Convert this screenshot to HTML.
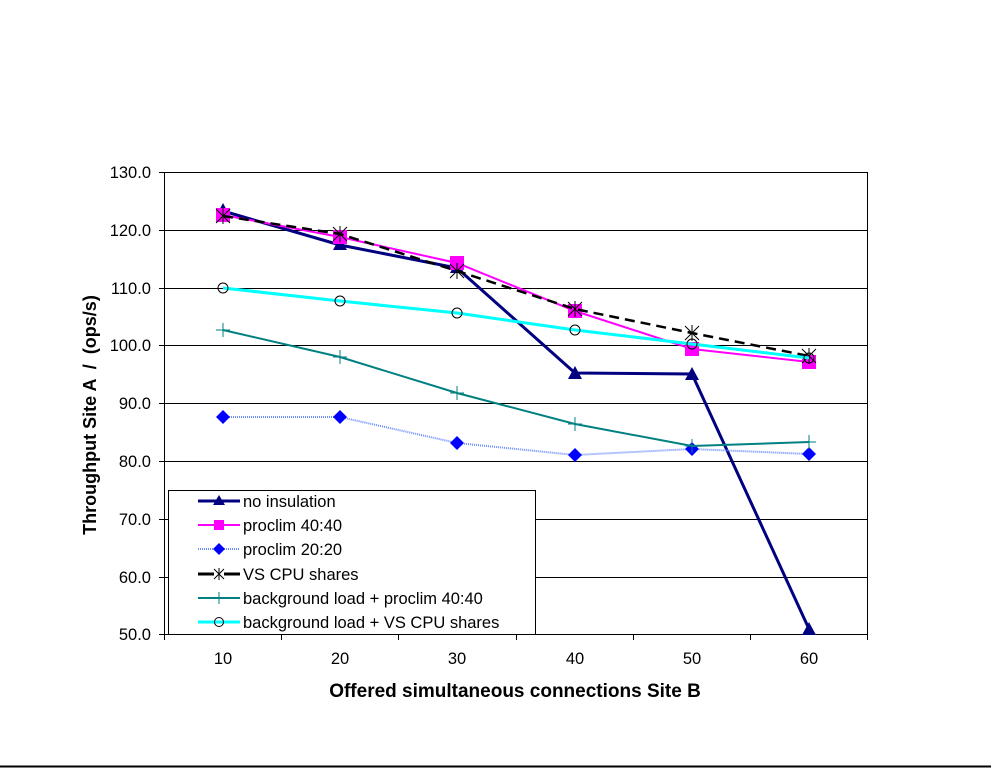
<!DOCTYPE html>
<html><head><meta charset="utf-8"><style>
html,body{margin:0;padding:0;background:#fff;}
svg{display:block;font-family:"Liberation Sans",Arial,sans-serif;}
</style></head><body>
<svg width="991" height="768" viewBox="0 0 991 768" xmlns="http://www.w3.org/2000/svg">
<rect width="991" height="768" fill="#fff"/>
<line x1="0" y1="766.5" x2="991" y2="766.5" stroke="#000" stroke-width="2"/>
<g stroke="#000" stroke-width="1">
<line x1="159" y1="172.5" x2="867" y2="172.5"/>
<line x1="159" y1="230.5" x2="867" y2="230.5"/>
<line x1="159" y1="288.5" x2="867" y2="288.5"/>
<line x1="159" y1="345.5" x2="867" y2="345.5"/>
<line x1="159" y1="403.5" x2="867" y2="403.5"/>
<line x1="159" y1="461.5" x2="867" y2="461.5"/>
<line x1="159" y1="519.5" x2="867" y2="519.5"/>
<line x1="159" y1="577.5" x2="867" y2="577.5"/>
<line x1="159" y1="634.5" x2="867" y2="634.5"/>
<line x1="164.5" y1="172" x2="164.5" y2="634"/>
<line x1="867.5" y1="172" x2="867.5" y2="634"/>
<line x1="164.5" y1="634" x2="164.5" y2="640"/>
<line x1="281.5" y1="634" x2="281.5" y2="640"/>
<line x1="398.5" y1="634" x2="398.5" y2="640"/>
<line x1="516.5" y1="634" x2="516.5" y2="640"/>
<line x1="633.5" y1="634" x2="633.5" y2="640"/>
<line x1="750.5" y1="634" x2="750.5" y2="640"/>
<line x1="867.5" y1="634" x2="867.5" y2="640"/>
</g>
<g font-size="16.5" text-anchor="end" fill="#000">
<text x="151" y="178">130.0</text>
<text x="151" y="236">120.0</text>
<text x="151" y="294">110.0</text>
<text x="151" y="351">100.0</text>
<text x="151" y="409">90.0</text>
<text x="151" y="467">80.0</text>
<text x="151" y="525">70.0</text>
<text x="151" y="583">60.0</text>
<text x="151" y="640">50.0</text>
</g>
<g font-size="16.5" text-anchor="middle">
<text x="223" y="664">10</text>
<text x="340" y="664">20</text>
<text x="457" y="664">30</text>
<text x="575" y="664">40</text>
<text x="692" y="664">50</text>
<text x="809" y="664">60</text>
</g>
<text x="515" y="697" font-size="19" font-weight="bold" text-anchor="middle">Offered simultaneous connections Site B</text>
<text transform="translate(96,415) rotate(-90)" font-size="18" font-weight="bold" text-anchor="middle" xml:space="preserve">Throughput Site A  /  (ops/s)</text>

<polyline points="223,211 340,245 457,268 575,373 692,374 809,629" fill="none" stroke="#000080" stroke-width="3"/>
<g fill="#000080">
<polygon points="223,203 216,216 230,216"/><polygon points="340,237 333,250 347,250"/><polygon points="457,260 450,273 464,273"/>
<polygon points="575,366 568,379 582,379"/><polygon points="692,367 685,380 699,380"/><polygon points="809,622 802,635 816,635"/>
</g>
<polyline points="223,215 340,237 457,263 575,311 692,349 809,362" fill="none" stroke="#ff00ff" stroke-width="2"/>
<g fill="#ff00ff">
<rect x="216" y="208" width="14" height="14"/><rect x="333" y="230" width="14" height="14"/><rect x="450" y="256" width="14" height="14"/>
<rect x="568" y="304" width="14" height="14"/><rect x="685" y="342" width="14" height="14"/><rect x="802" y="355" width="14" height="14"/>
</g>
<polyline points="223,417 340,417 457,443 575,455 692,449 809,454" fill="none" stroke="#6a8cff" stroke-width="2" stroke-dasharray="1,1"/>
<g fill="#0000ff">
<polygon points="223,410 230,417 223,424 216,417"/><polygon points="340,410 347,417 340,424 333,417"/><polygon points="457,436 464,443 457,450 450,443"/>
<polygon points="575,448 582,455 575,462 568,455"/><polygon points="692,442 699,449 692,456 685,449"/><polygon points="809,447 816,454 809,461 802,454"/>
</g>
<polyline points="223,216 340,234 457,271 575,309 692,333 809,356" fill="none" stroke="#000" stroke-width="2.5" stroke-dasharray="10,6"/>
<g stroke="#000" stroke-width="1">
<path d="M216,209l14,14M230,209l-14,14M223,208v16M340,226v16M333,227l14,14M347,227l-14,14M457,263v16M450,264l14,14M464,264l-14,14M575,301v16M568,302l14,14M582,302l-14,14M692,325v16M685,326l14,14M699,326l-14,14M809,348v16M802,349l14,14M816,349l-14,14"/>
</g>
<polyline points="223,330 340,357 457,393 575,424 692,446 809,442" fill="none" stroke="#008080" stroke-width="2"/>
<g stroke="#008080" stroke-width="1">
<path d="M223,323v14M216,330h14M340,350v14M333,357h14M457,386v14M450,393h14M575,417v14M568,424h14M692,439v14M685,446h14M809,435v14M802,442h14"/>
</g>
<polyline points="223,288 340,301 457,313 575,330 692,344 809,358" fill="none" stroke="#00ffff" stroke-width="3"/>
<g fill="none" stroke="#000" stroke-width="1">
<circle cx="223" cy="288" r="5"/><circle cx="340" cy="301" r="5"/><circle cx="457" cy="313" r="5"/>
<circle cx="575" cy="330" r="5"/><circle cx="692" cy="344" r="5"/><circle cx="809" cy="358" r="5"/>
</g>

<rect x="168.5" y="490.5" width="367" height="144" fill="#fff" stroke="#000" stroke-width="1"/>
<g font-size="16.5">
<line x1="198" y1="501" x2="240" y2="501" stroke="#000080" stroke-width="3"/>
<polygon points="219,495 213,505 225,505" fill="#000080"/>
<text x="243" y="507">no insulation</text>
<line x1="198" y1="525" x2="240" y2="525" stroke="#ff00ff" stroke-width="2"/>
<rect x="214" y="520" width="10" height="10" fill="#ff00ff"/>
<text x="243" y="531">proclim 40:40</text>
<line x1="198" y1="549" x2="240" y2="549" stroke="#6a8cff" stroke-width="2" stroke-dasharray="1,1"/>
<polygon points="219,543 225,549 219,555 213,549" fill="#0000ff"/>
<text x="243" y="555">proclim 20:20</text>
<line x1="198" y1="574" x2="240" y2="574" stroke="#000" stroke-width="3"/>
<rect x="214" y="568" width="10" height="12" fill="#fff"/>
<path d="M219,568v12M214,569l10,10M224,569l-10,10" stroke="#000" stroke-width="1"/>
<text x="243" y="580">VS CPU shares</text>
<line x1="198" y1="598" x2="240" y2="598" stroke="#008080" stroke-width="2"/>
<path d="M219,592v12" stroke="#008080" stroke-width="1"/>
<text x="243" y="604">background load + proclim 40:40</text>
<line x1="198" y1="622" x2="240" y2="622" stroke="#00ffff" stroke-width="3"/>
<circle cx="219" cy="622" r="4.5" fill="none" stroke="#000" stroke-width="1"/>
<text x="243" y="628">background load + VS CPU shares</text>
</g>
</svg>
</body></html>
